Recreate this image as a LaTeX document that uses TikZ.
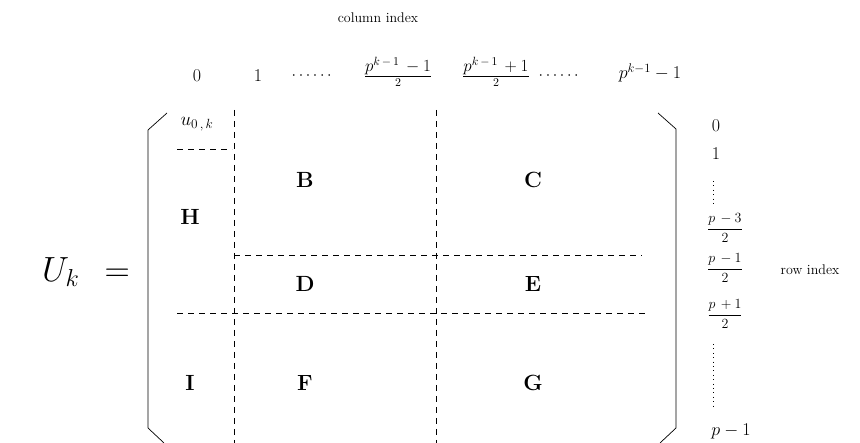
\RequirePackage{fix-cm}
\documentclass[tikz,border=0pt]{standalone}
\usepackage{amsmath}
\begin{document}
\begin{tikzpicture}[x=1pt,y=-1pt,
  blk/.style={font=\fontsize{22}{26}\selectfont\bfseries},
  lbl/.style={font=\fontsize{18}{21}\selectfont},
  dotl/.style={font=\fontsize{16}{19}\selectfont},
  frc/.style={font=\fontsize{17}{20}\selectfont},
  rfr/.style={font=\fontsize{14}{16}\selectfont},
  note/.style={font=\fontsize{14}{16}\selectfont},
  dsh/.style={dash pattern=on 6pt off 5pt, line width=0.5pt},
  dots/.style={dash pattern=on 0.8pt off 3.6pt, line width=0.8pt},
  brk/.style={line width=0.7pt}]
\useasboundingbox (0,0) rectangle (860,443);
% title
\node[note] (colidx) at (378,18) {column index};
% column labels
\node[lbl] (c0) at (197,76) {$0$};
\node[lbl] (c1) at (258,76) {$1$};
\node[dotl] (cd1) at (313,76) {$\cdots\cdots$};
\node[frc] (cm) at (398,72) {$\frac{\textstyle p^{k\,-\,1}\,-1}{2}$};
\node[frc] (cp) at (496,72) {$\frac{\textstyle p^{k\,-\,1}\,+1}{2}$};
\node[dotl] (cd2) at (560,76) {$\cdots\cdots$};
\node[lbl] (clast) at (650,73) {$p^{k-1}-1$};
% U_k
\node[font=\fontsize{35}{40}\selectfont] (U) at (86,272) {$U_k\;\,=$};
% brackets
\coordinate (lt) at (167,113);
\coordinate (lt2) at (148,130);
\coordinate (lb2) at (148,428);
\coordinate (lb) at (164,443);
\draw[brk] (lt) -- (lt2) -- (lb2) -- (lb);
\coordinate (rt) at (658,113);
\coordinate (rt2) at (676,129);
\coordinate (rb2) at (676,428);
\coordinate (rb) at (660,443);
\draw[brk] (rt) -- (rt2) -- (rb2) -- (rb);
% dashed lines
\coordinate (v1t) at (234,110);
\coordinate (v1b) at (234,443);
\coordinate (v2t) at (436,110);
\coordinate (v2b) at (436,443);
\draw[dsh] (v1t) -- (v1b);
\draw[dsh] (v2t) -- (v2b);
\coordinate (h0a) at (177,149);
\coordinate (h0b) at (232,149);
\draw[dsh] (h0a) -- (h0b);
\coordinate (h1a) at (234,255);
\coordinate (h1b) at (642,255);
\draw[dsh] (h1a) -- (h1b);
\coordinate (h2a) at (177,313);
\coordinate (h2b) at (646,313);
\draw[dsh] (h2a) -- (h2b);
% entries
\node[font=\fontsize{19}{23}\selectfont] (u0k) at (197,124) {$u_{0\,,\,k}$};
\node[blk] (H) at (190,217) {H};
\node[blk] (B) at (305,180) {B};
\node[blk] (C) at (533,180) {C};
\node[blk] (D) at (305,284) {D};
\node[blk] (E) at (533,284) {E};
\node[blk] (I) at (190,383) {I};
\node[blk] (F) at (305,383) {F};
\node[blk] (G) at (533,383) {G};
% row labels
\node[lbl] (r0) at (716,126) {$0$};
\node[lbl] (r1) at (716,154) {$1$};
\coordinate (d1a) at (713,181);
\coordinate (d1b) at (713,206);
\draw[dots] (d1a) -- (d1b);
\node[rfr] (r3) at (725,228) {$\dfrac{p\,-3}{2}$};
\node[rfr] (r1b) at (725,268) {$\dfrac{p\,-1}{2}$};
\node[note] (rowidx) at (810,270) {row index};
\node[rfr] (r2) at (725,314) {$\dfrac{p\,+1}{2}$};
\coordinate (d2a) at (713,344);
\coordinate (d2b) at (713,406);
\draw[dots] (d2a) -- (d2b);
\node[lbl] (rl) at (731,431) {$p-1$};
\end{tikzpicture}
\end{document}
